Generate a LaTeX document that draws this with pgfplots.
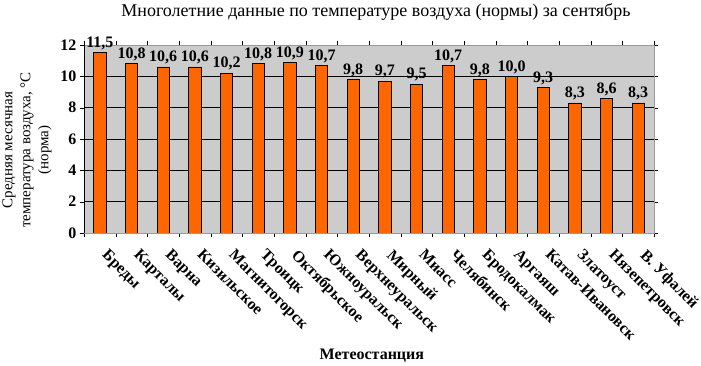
\documentclass[border=0pt]{standalone}
\usepackage{pgfplots}
\pgfplotsset{compat=1.18}
\usepackage{fontspec}
\setmainfont{Liberation Serif}
\definecolor{barfill}{HTML}{FF6600}
\definecolor{plotbg}{HTML}{CCCCCC}
\begin{document}
\begin{tikzpicture}
\path[use as bounding box] (0pt,0pt) rectangle (701pt,366pt);
\coordinate (O) at (84pt,133pt);
\node[font=\fontsize{18}{20}\selectfont] at (376pt,354pt) {Многолетние данные по температуре воздуха (нормы) за сентябрь};
\node[font=\fontsize{15}{18}\selectfont, rotate=90, align=center] at (27pt,216pt)
  {Средняя месячная\\температура воздуха, °С\\(норма)};
\begin{axis}[
  at={(O)}, anchor=south west,
  scale only axis, width=570pt, height=188pt,
  xmin=-0.5, xmax=17.5, ymin=0, ymax=12,
  ybar, bar width=12.3pt,
  axis background/.style={fill=plotbg},
  axis line style={draw=gray!80},
  xtick={0,...,17},
  xticklabels={Бреды,Карталы,Варна,Кизильское,Магнитогорск,Троицк,Октябрьское,Южноуральск,Верхнеуральск,Мирный,Миасс,Челябинск,Бродокалмак,Аргаяш,Катав-Ивановск,Златоуст,Нязепетровск,В. Уфалей},
  major x tick style={draw=none},
  minor xtick={-0.5,0.5,...,17.5},
  minor x tick style={black},
  minor tick length=4pt,
  tick align=outside,
  ytick={0,2,...,12},
  major tick length=4pt,
  y tick style={black},
  extra y ticks={2,4,6,8,10},
  extra y tick labels={},
  extra y tick style={grid=major, major tick length=0pt},
  grid style={black, line width=0.6pt},
  xticklabel style={rotate=-45, anchor=north west, font=\bfseries\fontsize{16}{18}\selectfont, xshift=11pt, yshift=2pt},
  yticklabel style={font=\bfseries\fontsize{16}{18}\selectfont},
  /pgf/number format/assume math mode=true,
  nodes near coords,
  nodes near coords style={font=\bfseries\fontsize{16}{18}\selectfont, yshift=-1pt,
    /pgf/number format/fixed, /pgf/number format/fixed zerofill, /pgf/number format/precision=1,
    /pgf/number format/use comma, /pgf/number format/assume math mode=true},
  xlabel={Метеостанция},
  xlabel style={font=\bfseries\fontsize{16}{18}\selectfont, at={(axis description cs:0.505,0)}, anchor=center, yshift=-123pt},
]
\addplot[fill=barfill, draw=black, line width=0.8pt] coordinates {
(0,11.5) (1,10.8) (2,10.6) (3,10.6) (4,10.2) (5,10.8) (6,10.9) (7,10.7) (8,9.8)
(9,9.7) (10,9.5) (11,10.7) (12,9.8) (13,10.0) (14,9.3) (15,8.3) (16,8.6) (17,8.3)};
\draw[black, line width=0.8pt] (rel axis cs:0,1) -- (rel axis cs:0,0) -- (rel axis cs:1,0);
\end{axis}
\end{tikzpicture}
\end{document}
